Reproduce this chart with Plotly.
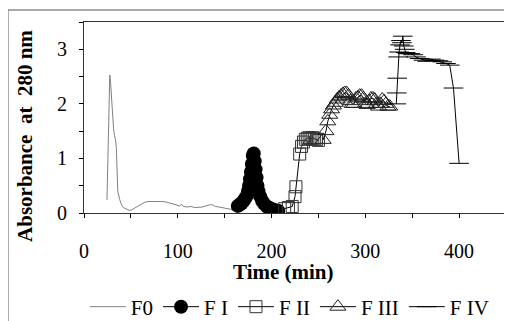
import plotly.graph_objects as go

# ---- data ----
f0_x = [24.5, 25.5, 26.5, 27.5, 28.5, 29.5, 30.5, 31.5, 32.5, 33.5, 34.5, 35, 36, 38, 40, 42, 45, 48, 50,
        53, 56, 60, 64, 68, 72, 76, 80, 84, 88, 92, 96, 100, 102, 104, 106, 110, 114, 118, 122, 126,
        130, 134, 137, 140, 144, 148, 152, 156, 160, 163]
f0_y = [0.24, 1.0, 2.0, 2.53, 2.35, 2.05, 1.8, 1.55, 1.42, 1.35, 1.2, 0.7, 0.4, 0.25, 0.15, 0.1, 0.07, 0.05, 0.05,
        0.08, 0.11, 0.15, 0.19, 0.21, 0.21, 0.22, 0.21, 0.21, 0.2, 0.18, 0.17, 0.15, 0.13, 0.16, 0.12, 0.11, 0.12, 0.1, 0.1, 0.11,
        0.13, 0.15, 0.15, 0.12, 0.11, 0.1, 0.09, 0.07, 0.05, 0.04]

f1_x = [164, 166, 168, 170, 172, 174, 175, 176, 177, 178, 179, 180, 181, 182, 183, 184, 185, 186, 188, 190,
        192, 195, 198, 201, 204, 207]
f1_y = [0.13, 0.15, 0.18, 0.22, 0.27, 0.33, 0.4, 0.5, 0.62, 0.75, 0.9, 1.05, 1.09, 0.95, 0.8, 0.65, 0.5, 0.4,
        0.3, 0.22, 0.17, 0.12, 0.09, 0.07, 0.05, 0.04]

f2_x = [214, 218, 222, 225, 226, 230, 232, 234, 236, 238, 240, 242, 244, 246, 248, 250]
f2_y = [0.08, 0.1, 0.12, 0.3, 0.48, 1.08, 1.22, 1.3, 1.35, 1.37, 1.38, 1.36, 1.38, 1.36, 1.35, 1.33]

f3_x = [255, 258, 260, 262, 264, 266, 268, 270, 272, 274, 276, 278, 280, 282, 284, 286, 288, 290, 292, 294,
        296, 298, 300, 302, 304, 306, 308, 310, 312, 314, 316, 318, 320, 322, 324, 326]
f3_y = [1.34, 1.5, 1.68, 1.8, 1.9, 1.97, 2.02, 2.08, 2.12, 2.15, 2.18, 2.2, 2.2, 2.15, 2.05, 2.0, 2.0, 2.1,
        2.12, 2.15, 2.15, 2.1, 2.0, 1.98, 2.05, 2.1, 2.1, 2.08, 2.0, 1.95, 2.0, 2.08, 2.05, 2.0, 1.95, 1.95]

f4_x = [333, 333.5, 334, 335, 336, 337, 338, 339, 340, 341, 342, 343, 345, 348, 351, 354, 358, 362, 366,
        370, 374, 378, 382, 386, 390, 394, 400]
f4_y = [2.0, 2.2, 2.47, 2.86, 2.95, 3.08, 3.16, 3.12, 3.24, 3.06, 3.0, 2.94, 2.92, 2.92, 2.9, 2.86, 2.83,
        2.8, 2.78, 2.82, 2.8, 2.79, 2.77, 2.74, 2.71, 2.29, 0.91]

names = ["F0", "F I", "F II", "F III", "F IV"]
y_title = "Absorbance\u00a0\u00a0at\u00a0\u00a0280 nm"
x_title = "Time (min)"

FONT = "Liberation Serif"

fig = go.Figure()
fig.add_trace(go.Scatter(x=f0_x, y=f0_y, name=names[0], mode="lines",
                         line=dict(color="#808080", width=1)))
fig.add_trace(go.Scatter(x=f1_x, y=f1_y, name=names[1], mode="lines+markers",
                         line=dict(color="black", width=1),
                         marker=dict(symbol="circle", size=14, color="black")))
fig.add_trace(go.Scatter(x=f2_x, y=f2_y, name=names[2], mode="lines+markers",
                         line=dict(color="black", width=1),
                         marker=dict(symbol="square-open", size=12, color="#333333", line=dict(width=1))))
fig.add_trace(go.Scatter(x=f3_x, y=f3_y, name=names[3], mode="lines+markers",
                         line=dict(color="black", width=1),
                         marker=dict(symbol="triangle-up-open", size=14, color="#222222", line=dict(width=1))))
fig.add_trace(go.Scatter(x=f4_x, y=f4_y, name=names[4], mode="lines+markers",
                         line=dict(color="black", width=1),
                         marker=dict(symbol="line-ew", size=14, color="black", line=dict(width=1, color="black"))))

axis_common = dict(showgrid=False, zeroline=False, showline=True, linecolor="#333333", linewidth=1,
                   mirror=True, ticks="outside", ticklen=4, tickcolor="black",
                   tickfont=dict(family=FONT, size=20, color="black"))

fig.update_xaxes(range=[0, 450], dtick=100, tick0=0, ticklabelstandoff=16,
                 minor=dict(dtick=50, ticks="outside", ticklen=4, tickcolor="black"), **axis_common)
fig.update_yaxes(range=[0, 3.5], dtick=1, tick0=0, ticklabelstandoff=8,
                 minor=dict(dtick=0.5, ticks="outside", ticklen=4, tickcolor="black"), **axis_common)

# the page body adds an 8px offset, so margins are shifted by 8px
fig.update_layout(
    width=512, height=321,
    margin=dict(l=76, r=14, t=14, b=116, autoexpand=False),
    paper_bgcolor="white", plot_bgcolor="white",
    font=dict(family=FONT, color="black"),
    showlegend=True,
    legend=dict(orientation="h", x=0.002, xanchor="left", y=-0.385, yanchor="top",
                font=dict(family=FONT, size=21, color="black"), bgcolor="rgba(0,0,0,0)",
                itemwidth=36, tracegroupgap=0),
    annotations=[
        dict(text="<b>" + y_title + "</b>", xref="paper", yref="paper", x=-0.14, y=0.403,
             textangle=-90, showarrow=False, font=dict(family=FONT, size=21, color="black"),
             xanchor="center", yanchor="middle"),
        dict(text="<b>" + x_title + "</b>", xref="paper", yref="paper", x=0.4716, y=-0.31,
             showarrow=False, font=dict(family=FONT, size=21, color="black"),
             xanchor="center", yanchor="middle"),
    ],
    shapes=[dict(type="rect", xref="paper", yref="paper", x0=-0.1801, x1=1.05, y0=-0.7, y1=1.0628,
                 line=dict(color="#555555", width=1), fillcolor="rgba(0,0,0,0)", layer="above")],
)

fig.write_html("out.html")
